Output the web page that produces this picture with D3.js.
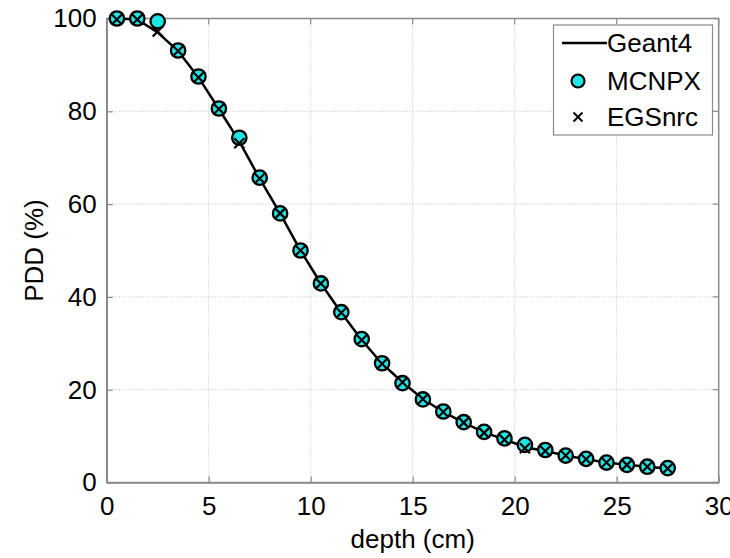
<!DOCTYPE html>
<html>
<head>
<meta charset="utf-8">
<script src="https://cdn.jsdelivr.net/npm/d3@7/dist/d3.min.js"></script>
<style>
  html, body { margin: 0; padding: 0; background: #fff; }
  svg { display: block; }
  text { font-family: "Liberation Sans", Arial, Helvetica, sans-serif; }
</style>
</head>
<body>
<script>
const depth  = [0.5,1.5,2.5,3.5,4.5,5.5,6.5,7.5,8.5,9.5,10.5,11.5,12.5,13.5,14.5,15.5,16.5,17.5,18.5,19.5,20.5,21.5,22.5,23.5,24.5,25.5,26.5,27.5];
const geant4 = [100,99.8,97,93,87.3,80.5,73.5,65.5,58,50,42.9,36.6,30.7,25.6,21.6,18,15.2,12.9,10.8,9.3,7.6,6.8,5.8,5.0,4.3,3.8,3.4,3.0];
const mcnpx  = [100,100,99.4,93.1,87.5,80.6,74.3,65.7,58,50,42.9,36.7,30.9,25.7,21.4,17.9,15.3,13.0,10.9,9.5,8.1,7.0,5.8,5.1,4.3,3.8,3.4,3.1];
const egsnrc = [99.8,99.8,97.2,93,87.3,80.5,73.1,65.5,58,50,42.9,36.6,30.7,25.6,21.6,18,15.2,12.9,10.7,9.2,7.4,6.8,5.8,5.0,4.3,3.8,3.4,3.0];
const xTicks = [0,5,10,15,20,25,30];
const yTicks = [0,20,40,60,80,100];
const legendLabels = ["Geant4","MCNPX","EGSnrc"];

const W = 730, H = 558;
const m = {left: 106.7, right: W - 718.7, top: 18.5, bottom: H - 482.5};
const svg = d3.select("body").append("svg").attr("width", W).attr("height", H);

const x = d3.scaleLinear().domain([0,30]).range([m.left, W - m.right]);
const y = d3.scaleLinear().domain([0,100]).range([H - m.bottom, m.top]);

const axisColor = "#8a8a8a";
const fs = 26;

// grid
const g = svg.append("g");
g.selectAll(".gx").data(xTicks.slice(1,-1)).enter().append("line")
  .attr("x1", d => x(d)).attr("x2", d => x(d)).attr("y1", y(0)).attr("y2", y(100))
  .attr("stroke", "#bdbdbd").attr("stroke-width", 1).attr("stroke-dasharray", "1,2");
g.selectAll(".gy").data(yTicks.slice(1,-1)).enter().append("line")
  .attr("y1", d => y(d)).attr("y2", d => y(d)).attr("x1", x(0)).attr("x2", x(30))
  .attr("stroke", "#bdbdbd").attr("stroke-width", 1).attr("stroke-dasharray", "1,2");

// box
svg.append("rect").attr("x", x(0)).attr("y", y(100)).attr("width", x(30)-x(0)).attr("height", y(0)-y(100))
  .attr("fill", "none").attr("stroke", axisColor).attr("stroke-width", 1.5);

// axes (inward ticks)
const xAxis = d3.axisBottom(x).tickValues(xTicks).tickSizeInner(-6).tickSizeOuter(0).tickPadding(14);
const yAxis = d3.axisLeft(y).tickValues(yTicks).tickSizeInner(-6).tickSizeOuter(0).tickPadding(10);
const gx = svg.append("g").attr("transform", `translate(0,${y(0)})`).call(xAxis);
const gy = svg.append("g").attr("transform", `translate(${x(0)},0)`).call(yAxis);
[gx, gy].forEach(a => {
  a.select(".domain").attr("stroke", axisColor).attr("stroke-width", 1.5);
  a.selectAll(".tick line").attr("stroke", axisColor).attr("stroke-width", 1.2);
  a.selectAll(".tick text").attr("fill", "#000").style("font-size", fs + "px")
    .style("font-family", "'Liberation Sans', Arial, sans-serif");
});
// top/right ticks
svg.selectAll(".tt").data(xTicks).enter().append("line")
  .attr("x1", d => x(d)).attr("x2", d => x(d)).attr("y1", y(100)).attr("y2", y(100)+6)
  .attr("stroke", axisColor).attr("stroke-width", 1.2);
svg.selectAll(".rt").data(yTicks).enter().append("line")
  .attr("y1", d => y(d)).attr("y2", d => y(d)).attr("x1", x(30)).attr("x2", x(30)-6)
  .attr("stroke", axisColor).attr("stroke-width", 1.2);

// labels
svg.append("text").attr("x", (x(0)+x(30))/2).attr("y", 548).attr("text-anchor", "middle")
  .style("font-size", fs + "px").text("depth (cm)");
svg.append("text").attr("transform", `translate(43,${(y(0)+y(100))/2}) rotate(-90)`)
  .attr("text-anchor", "middle").style("font-size", fs + "px").text("PDD (%)");

// Geant4 line
const line = d3.line().x((d,i) => x(depth[i])).y(d => y(d));
svg.append("path").datum(geant4).attr("d", line).attr("fill", "none")
  .attr("stroke", "#000").attr("stroke-width", 2.5);

const cyan = "#1ee6e6";
// MCNPX
svg.selectAll(".mc").data(mcnpx).enter().append("circle")
  .attr("cx", (d,i) => x(depth[i])).attr("cy", d => y(d)).attr("r", 7.2)
  .attr("fill", cyan).attr("stroke", "#000").attr("stroke-width", 2.3);

// EGSnrc
const s = 5;
svg.selectAll(".eg").data(egsnrc).enter().append("path")
  .attr("d", (d,i) => {
    const cx = x(depth[i]), cy = y(d);
    return `M${cx-s},${cy-s}L${cx+s},${cy+s}M${cx-s},${cy+s}L${cx+s},${cy-s}`;
  })
  .attr("stroke", "#000").attr("stroke-width", 2.2).attr("fill", "none");

// legend
const lg = svg.append("g");
lg.append("rect").attr("x", 553.5).attr("y", 25).attr("width", 159).attr("height", 110)
  .attr("fill", "#fff").attr("stroke", axisColor).attr("stroke-width", 1.2);
const ly = [43, 81, 117];
lg.append("line").attr("x1", 562).attr("x2", 607).attr("y1", ly[0]).attr("y2", ly[0])
  .attr("stroke", "#000").attr("stroke-width", 2.5);
lg.append("circle").attr("cx", 578).attr("cy", ly[1]).attr("r", 6.5)
  .attr("fill", cyan).attr("stroke", "#000").attr("stroke-width", 2.2);
const ls = 4.5;
lg.append("path").attr("d", `M${578-ls},${ly[2]-ls}L${578+ls},${ly[2]+ls}M${578-ls},${ly[2]+ls}L${578+ls},${ly[2]-ls}`)
  .attr("stroke", "#000").attr("stroke-width", 2);
lg.selectAll(".lt").data(legendLabels).enter().append("text")
  .attr("x", 607).attr("y", (d,i) => ly[i]).attr("dy", "0.36em")
  .style("font-size", fs + "px").text(d => d);
</script>
</body>
</html>
